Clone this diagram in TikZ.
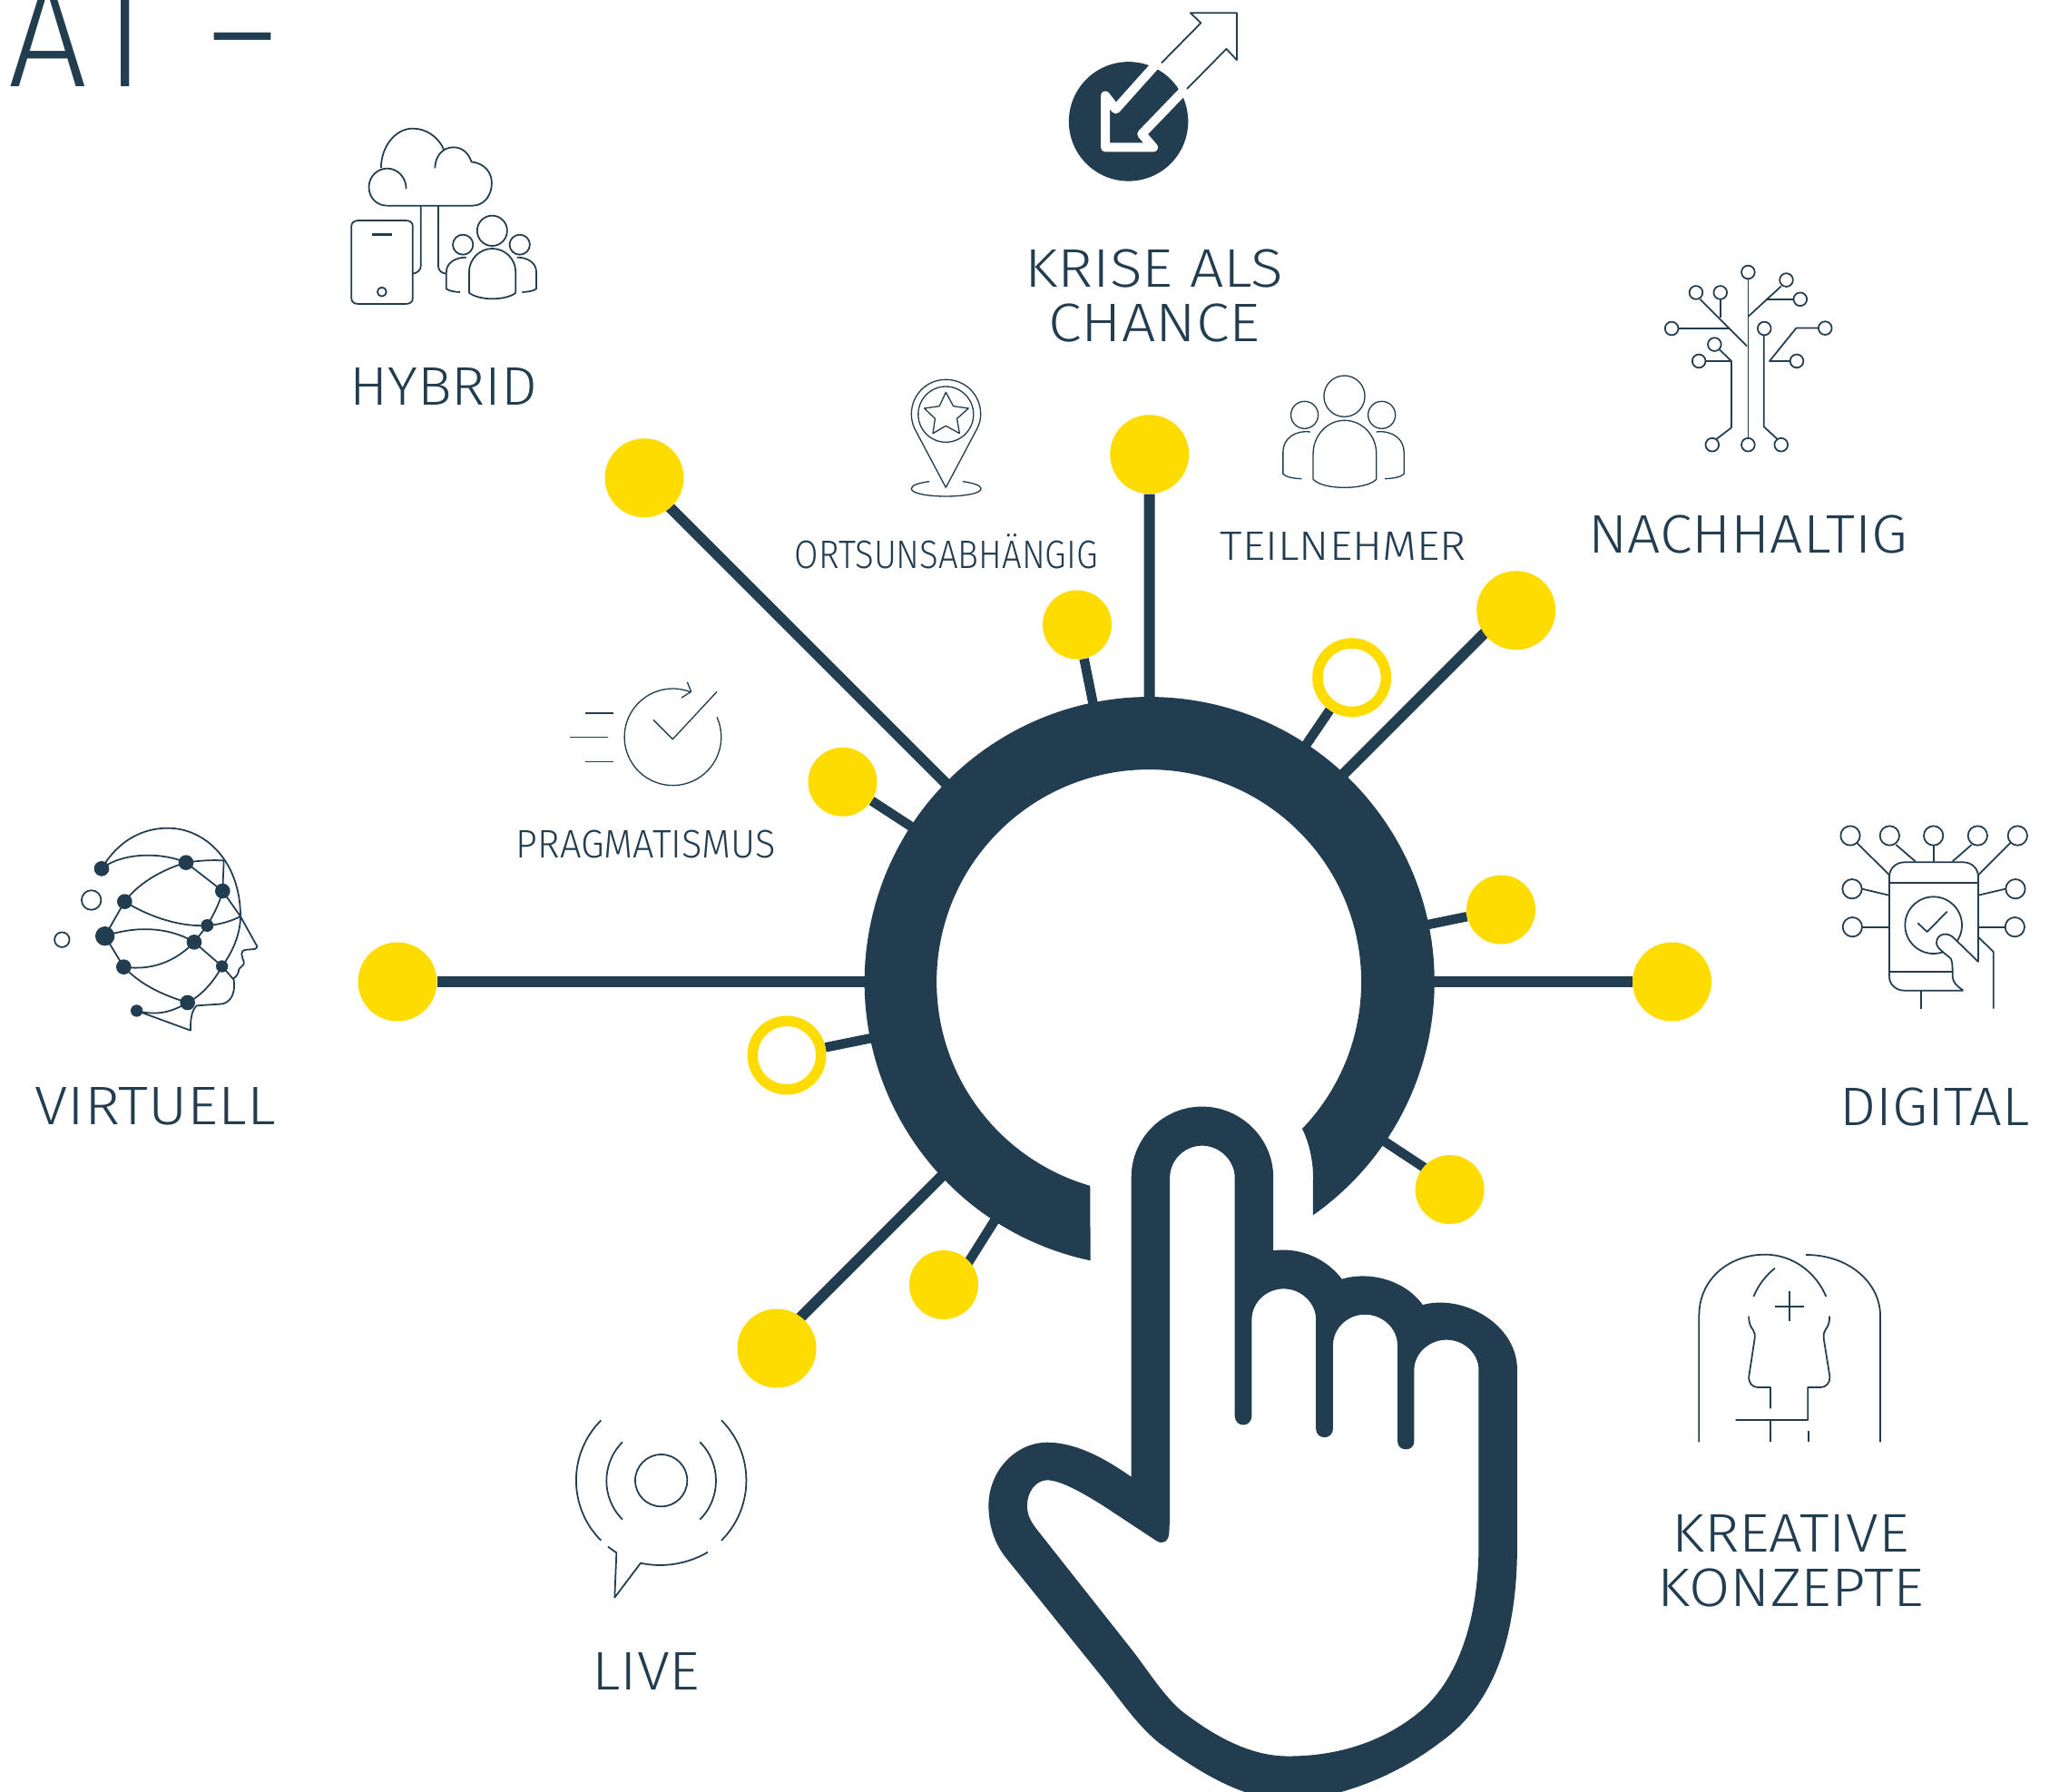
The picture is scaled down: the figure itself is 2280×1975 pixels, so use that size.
\documentclass[tikz,border=0pt]{standalone}
\usepackage{fontspec}
\usepackage{graphicx}
\setmainfont{Fira Sans}[UprightFont=* Light]
\usetikzlibrary{calc,backgrounds}
\definecolor{navy}{HTML}{223D50}
\definecolor{sun}{HTML}{FFDC00}
\newlength\pxunit
\setlength\pxunit{0.02cm}
\newcommand\capfit[3]{\resizebox{#1\pxunit}{#2\pxunit}{\fontsize{60}{60}\selectfont\raisebox{0pt}[\fontcharht\font`H][0pt]{#3}}}
\tikzset{
  lab/.style={anchor=south west,inner sep=0pt,text=navy},
  icon/.style={draw=navy,line width=1pt,line join=round},
  finicon/.style={draw=navy,line width=.75pt,line join=round},
  bigdot/.style={circle,fill=sun,inner sep=0pt,minimum size=1.74cm},
  smalldot/.style={circle,fill=sun,inner sep=0pt,minimum size=1.52cm},
  opendot/.style={circle,draw=sun,fill=white,line width=.23cm,inner sep=0pt,minimum size=1.51cm},
  bigline/.style={draw=navy,line width=.24cm},
  smallline/.style={draw=navy,line width=.21cm},
  hd/.style={circle,fill=navy,inner sep=0pt,minimum size=#1},
  tip/.style={circle,draw=navy,line width=1pt,inner sep=0pt,minimum size=#1},
}
\begin{document}
\begin{tikzpicture}[x=0.02cm,y=-0.02cm]
\useasboundingbox (0,0) rectangle (2280,1975);
\begin{pgfonlayer}{background}
\fill[white] (0,0) rectangle (2280,1975);
\end{pgfonlayer}
\coordinate (ctr) at (1266.6,1082);

% yellow dots
\node[bigdot] (b1) at (710,526.7) {};
\node[bigdot] (b2) at (1266.7,500.7) {};
\node[bigdot] (b3) at (1670.7,672.7) {};
\node[bigdot] (b4) at (438,1082) {};
\node[bigdot] (b5) at (1842.5,1082) {};
\node[bigdot] (b6) at (856,1486) {};
\node[smalldot] (s1) at (1187,688.5) {};
\node[smalldot] (s2) at (928.5,861.7) {};
\node[smalldot] (s3) at (1654,1002.5) {};
\node[smalldot] (s4) at (1597.6,1311) {};
\node[smalldot] (s5) at (1040,1416) {};
\node[opendot] (o1) at (1489.7,746.7) {};
\node[opendot] (o2) at (867,1163) {};
% connectors, under the dots and the ring
\begin{pgfonlayer}{background}
\foreach \n in {b2,b4,b5}{
  \coordinate (e\n) at ($(ctr)!6cm!(\n)$);
  \draw[bigline] (\n) -- (e\n);
}
\foreach \n in {s1,s2,s3,o2}{
  \coordinate (e\n) at ($(ctr)!6cm!(\n)$);
  \draw[smallline] (\n) -- (e\n);
}
\coordinate (eb1) at (1050,871);
\coordinate (eb3) at (1475,858.5);
\coordinate (eb6) at (1048,1286);
\coordinate (es4) at (1500,1241);
\coordinate (es5) at (1110,1323);
\coordinate (eo1) at (1429,836);
\draw[bigline] ($(b1)+(2,6.3)$) -- (eb1);
\draw[bigline] ($(b3)+(-10.7,.8)$) -- (eb3);
\draw[bigline] ($(b6)+(4,-12)$) -- (eb6);
\draw[smallline] ($(s4)+(-.6,-6)$) -- (es4);
\draw[smallline] ($(s5)+(10,2.5)$) -- (es5);
\draw[smallline] (o1) -- (eo1);
\end{pgfonlayer}
% ring
\fill[navy] (1201.7,1389.3) arc[start angle=101.95,end angle=415,radius=314] -- (1447,1297)
  .. controls (1447,1280) and (1443,1260) .. (1435,1244)
  arc[start angle=43.8,end angle=-253.9,radius=234] -- cycle;

% hand
\begin{scope}[shift={(1060,1180)},x={0.02cm/2.448},y={-0.02cm/1.972}]
\fill[navy,even odd rule]
 (457,232) .. controls (457,145) and (545,78) .. (648,78) .. controls (750,78) and (840,145) .. (840,232) -- (840,391)
 .. controls (915,383) and (985,410) .. (1025,453) .. controls (1100,435) and (1195,455) .. (1243,509)
 .. controls (1350,485) and (1498,550) .. (1498,650) -- (1498,1030)
 .. controls (1498,1240) and (1430,1380) .. (1290,1460) .. controls (1160,1540) and (1000,1585) .. (880,1585)
 .. controls (760,1585) and (640,1525) .. (530,1460) .. controls (470,1420) and (425,1365) .. (380,1320)
 -- (120,1060) .. controls (85,1025) and (72,985) .. (72,945) .. controls (72,870) and (145,808) .. (230,808)
 .. controls (310,808) and (390,845) .. (457,883) -- cycle
 (561,232) .. controls (561,195) and (600,163) .. (648,163) .. controls (695,163) and (736,195) .. (736,232) -- (736,750)
 .. controls (736,762) and (747,770) .. (759,770) .. controls (771,770) and (782,762) .. (782,750) -- (782,540)
 .. controls (782,505) and (820,474) .. (868,474) .. controls (915,474) and (955,505) .. (955,540) -- (955,778)
 .. controls (955,790) and (966,797) .. (978,797) .. controls (990,797) and (1001,790) .. (1001,778) -- (1001,597)
 .. controls (1001,560) and (1040,530) .. (1087,530) .. controls (1135,530) and (1175,560) .. (1175,597) -- (1175,805)
 .. controls (1175,817) and (1186,823) .. (1198,823) .. controls (1210,823) and (1220,817) .. (1220,805) -- (1220,650)
 .. controls (1220,615) and (1260,585) .. (1307,585) .. controls (1355,585) and (1394,615) .. (1394,650) -- (1394,1030)
 .. controls (1394,1190) and (1340,1320) .. (1240,1390) .. controls (1130,1465) and (1000,1490) .. (880,1490)
 .. controls (770,1490) and (670,1440) .. (590,1390) .. controls (540,1355) and (495,1295) .. (450,1250)
 -- (205,1000) .. controls (185,980) and (176,965) .. (176,945) .. controls (176,915) and (200,890) .. (230,890)
 .. controls (270,890) and (340,925) .. (380,945) -- (525,1022) .. controls (540,1030) and (557,1025) .. (559,1005) -- (561,970) -- cycle;
\end{scope}

% hybrid icon
\begin{scope}[shift={(0,0)},x={0.02cm/2.238},y={-0.02cm/3}]
\draw[icon] (955,680) -- (1165,680) .. controls (1195,680) and (1213,645) .. (1213,605) .. controls (1213,570) and (1195,540) .. (1163,535)
  .. controls (1155,505) and (1140,487) .. (1118,487) .. controls (1090,487) and (1073,520) .. (1073,556);
\draw[icon] (1095,495) .. controls (1080,450) and (1050,425) .. (1018,425) .. controls (975,425) and (940,485) .. (940,555);
\draw[icon] (1002,625) .. controls (1002,585) and (980,557) .. (955,557) .. controls (930,557) and (910,585) .. (910,618) .. controls (910,655) and (930,680) .. (955,680);
\draw[icon] (1038,680) -- (1038,880) .. controls (1038,892) and (1030,903) .. (1018,905);
\draw[icon] (1081,680) -- (1081,880) .. controls (1081,892) and (1088,903) .. (1100,905);
\draw[icon] (885,729) -- (1000,729) .. controls (1012,729) and (1018,737) .. (1018,747) -- (1018,987) .. controls (1018,998) and (1012,1005) .. (1000,1005)
  -- (885,1005) .. controls (873,1005) and (867,998) .. (867,987) -- (867,747) .. controls (867,737) and (873,729) .. (885,729) -- cycle;
\draw[navy,line width=2pt] (918,776) -- (966,776);
\draw[icon] (942,965) ellipse[x radius=11,y radius=15];
\draw[icon] (1214,763) ellipse[x radius=37,y radius=50];
\draw[icon] (1142,809) ellipse[x radius=25,y radius=33];
\draw[icon] (1282,809) ellipse[x radius=25,y radius=33];
\draw[icon] (1157,968) -- (1157,900) .. controls (1157,855) and (1185,822) .. (1214,822) .. controls (1245,822) and (1272,855) .. (1272,900) -- (1272,968) .. controls (1260,982) and (1235,988) .. (1214,988) .. controls (1195,988) and (1170,982) .. (1157,968);
\draw[icon] (1150,851) .. controls (1122,851) and (1101,870) .. (1101,900) -- (1101,955) .. controls (1108,962) and (1120,965) .. (1135,966);
\draw[icon] (1275,851) .. controls (1303,851) and (1323,870) .. (1323,900) -- (1323,955) .. controls (1316,962) and (1303,965) .. (1288,966);
\end{scope}

% krise icon and tree icon
\begin{scope}[shift={(1100,0)},x={0.02cm/1.567},y={-0.02cm/2.45}]
\fill[navy] (225,328) ellipse[x radius=103,y radius=161];
\draw[white,line width=.2cm,line join=round] (270,178) -- (203,295) -- (185,258) -- (185,398) -- (268,398) -- (248,362) -- (320,245);
\draw[icon] (282,170) -- (350,62) -- (332,35) -- (412,35) -- (412,162) -- (394,132) -- (326,240);
% tree
\foreach \n/\p in {t1/{1295,735},t2/{1361,756},t3/{1385,808},t4/{1205,790},t5/{1247,790},t6/{1163,887},t7/{1323,887},t8/{1428,886},t9/{1237,930},t10/{1210,975},t11/{1379,975},t12/{1233,1201},t13/{1295,1201},t14/{1352,1201}}{
  \draw[icon] (\p) ellipse[x radius=11.5,y radius=18];
}
\draw[icon] (1295,753) -- (1295,1183);
\draw[icon] (1295,855) -- (1352,773);
\draw[icon] (1325,808) -- (1373,808);
\draw[icon] (1293,935) -- (1212,808);
\draw[icon] (1247,808) -- (1247,858);
\draw[icon] (1175,887) -- (1262,887);
\draw[icon] (1322,905) -- (1322,1152) -- (1345,1185);
\draw[icon] (1245,943) -- (1266,975) -- (1266,1155) -- (1240,1186);
\draw[icon] (1221,975) -- (1266,975);
\draw[icon] (1417,886) -- (1378,886) -- (1332,975) -- (1368,975);
\end{scope}

% pin and teilnehmer
\begin{scope}[shift={(960,400)},x={0.02cm/2.527},y={-0.02cm/3}]
\draw[finicon] (208,412) -- (120,215) .. controls (115,200) and (112,185) .. (112,170) .. controls (112,105) and (155,55) .. (208,55) .. controls (262,55) and (305,105) .. (305,170) .. controls (305,185) and (302,200) .. (296,215) -- cycle;
\draw[finicon] (208,170) ellipse[x radius=77,y radius=92];
\draw[finicon] (208,97) -- (229,143) -- (271,150) -- (239,184) -- (246,233) -- (208,208) -- (172,233) -- (178,184) -- (148,150) -- (190,143) -- cycle;
\draw[finicon] (162,392) .. controls (130,397) and (112,405) .. (112,416) .. controls (112,432) and (160,441) .. (208,441) .. controls (256,441) and (306,432) .. (306,416) .. controls (306,405) and (285,397) .. (255,392);
\draw[finicon] (1318,110) ellipse[x radius=57,y radius=68];
\draw[finicon] (1207,172) ellipse[x radius=38,y radius=45];
\draw[finicon] (1422,172) ellipse[x radius=38,y radius=45];
\draw[finicon] (1231,385) -- (1231,300) .. controls (1231,240) and (1270,190) .. (1318,190) .. controls (1368,190) and (1407,240) .. (1407,300) -- (1407,385) .. controls (1390,405) and (1350,412) .. (1318,412) .. controls (1285,412) and (1248,405) .. (1231,385);
\draw[finicon] (1223,228) .. controls (1180,222) and (1147,250) .. (1147,295) -- (1147,367) .. controls (1155,377) and (1175,382) .. (1199,383);
\draw[finicon] (1407,228) .. controls (1450,222) and (1484,250) .. (1484,295) -- (1484,367) .. controls (1476,377) and (1455,382) .. (1431,383);
\end{scope}

% pragmatismus icon
\begin{scope}[shift={(600,720)},x={0.02cm/3},y={-0.02cm/3}]
\draw[finicon] (483,128) arc[start angle=-68.5,end angle=-384.3,radius=160];
\draw[finicon] (472,95) -- (485,127) -- (453,147);
\draw[finicon] (360,220) -- (424,284) -- (570,127);
\draw[finicon] (135,198) -- (227,198);
\draw[finicon] (85,278) -- (211,278);
\draw[finicon] (135,358) -- (227,358);
\end{scope}

% live icon
\begin{scope}[shift={(600,1540)},x={0.02cm/3},y={-0.02cm/3}]
\coordinate (lc) at (386,275);
\draw[icon] (lc) circle[radius=86];
\draw[icon] (258,148) arc[start angle=225,end angle=135,radius=181];
\draw[icon] (514,148) arc[start angle=-45,end angle=45,radius=181];
\draw[icon] (187,76) arc[start angle=225,end angle=135,radius=281];
\draw[icon] (585,76) arc[start angle=-45,end angle=45,radius=281];
\draw[icon] (210,494) -- (238,514) -- (232,662) -- (318,548) .. controls (395,565) and (475,550) .. (540,512);
\end{scope}

% virtuell icon
\begin{scope}[shift={(0,880)},x={0.02cm/3},y={-0.02cm/3}]
\node[hd=.333cm] (v1) at (336,232) {};
\node[hd=.333cm] (v2) at (615,212) {};
\node[hd=.333cm] (v3) at (736,306) {};
\node[hd=.333cm] (v4) at (412,341) {};
\node[hd=.28cm] (v5) at (685,420) {};
\node[hd=.333cm] (v6) at (642,475) {};
\node[hd=.427cm] (v7) at (347,455) {};
\node[hd=.333cm] (v8) at (409,557) {};
\node[hd=.267cm] (v9) at (734,555) {};
\node[hd=.333cm] (v10) at (620,675) {};
\node[hd=.267cm] (v11) at (452,702) {};
\node[tip=.43cm] (v12) at (302,336) {};
\node[tip=.33cm] (v13) at (205,467) {};
\coordinate (vb) at (795,390);
\coordinate (vt) at (740,205);
\draw[icon] (v1.center) .. controls (390,140) and (470,98) .. (555,98) .. controls (680,98) and (795,210) .. (vb);
\draw[icon] (vb) -- (845,480) .. controls (860,500) and (840,498) .. (815,500) .. controls (790,503) and (800,520) .. (806,540) .. controls (810,552) and (795,555) .. (790,565) .. controls (788,582) and (780,590) .. (772,595)
  .. controls (780,630) and (770,680) .. (725,680) -- (650,685) .. controls (630,705) and (630,740) .. (630,767) -- (v11.center);
\draw[icon] (vb) .. controls (795,440) and (775,500) .. (v9.center);
\draw[icon] (v9.center) -- (772,598);
\draw[icon] (v1.center) .. controls (400,180) and (530,175) .. (v2.center);
\draw[icon] (v2.center) .. controls (660,205) and (700,203) .. (vt) -- (v3.center);
\draw[icon] (v2.center) -- (v3.center);
\draw[icon] (v2.center) .. controls (520,240) and (450,290) .. (v4.center);
\draw[icon] (v4.center) .. controls (500,395) and (600,425) .. (v5.center);
\draw[icon] (v5.center) .. controls (720,418) and (760,408) .. (vb);
\draw[icon] (v3.center) -- (vb);
\draw[icon] (v3.center) .. controls (725,350) and (705,385) .. (v5.center);
\draw[icon] (v5.center) -- (v6.center);
\draw[icon] (v7.center) -- (v4.center);
\draw[icon] (v7.center) .. controls (450,420) and (560,425) .. (v6.center);
\draw[icon] (v7.center) -- (v8.center);
\draw[icon] (v8.center) .. controls (500,570) and (580,540) .. (v6.center);
\draw[icon] (v6.center) -- (v9.center);
\draw[icon] (v8.center) .. controls (470,620) and (540,650) .. (v10.center);
\draw[icon] (v10.center) .. controls (670,650) and (710,600) .. (v9.center);
\draw[icon] (v11.center) .. controls (520,720) and (570,705) .. (v10.center);
\end{scope}

% digital icon
\begin{scope}[shift={(1980,880)},x={0.02cm/3},y={-0.02cm/3}]
\draw[icon] (452,419) circle[radius=94];
\draw[icon] (400,412) -- (431,441) -- (497,374);
\foreach \p in {{177,123},{307,123},{452,123},{598,123},{730,123},{183,299},{723,299},{184,425},{721,425}}{
  \draw[icon] (\p) circle[radius=32];
}
\draw[icon] (197,145) -- (308,255);
\draw[icon] (328,153) -- (392,208);
\draw[icon] (452,155) -- (452,210);
\draw[icon] (578,153) -- (515,208);
\draw[icon] (708,145) -- (598,255);
\draw[icon] (216,299) -- (305,320);
\draw[icon] (690,299) -- (600,320);
\draw[icon] (216,425) -- (305,425);
\draw[icon] (690,425) -- (600,425);
\draw[icon] (306,590) -- (306,258) .. controls (306,232) and (328,211) .. (355,211) -- (552,211) .. controls (578,211) and (600,232) .. (600,258) -- (600,540);
\draw[icon] (306,590) .. controls (306,615) and (328,635) .. (355,635) -- (550,635);
\draw[icon] (306,280) -- (600,280);
\draw[icon] (306,573) -- (513,573);
\fill[white] (600,540) -- (520,462) .. controls (500,440) and (462,445) .. (462,478) .. controls (462,495) and (490,512) .. (510,530) .. controls (516,545) and (515,570) .. (515,590) .. controls (517,610) and (530,620) .. (550,635) -- (598,635) -- (598,540) -- cycle;
\draw[icon] (600,540) -- (520,462) .. controls (500,440) and (462,445) .. (462,478) .. controls (462,495) and (490,512) .. (510,530) .. controls (516,545) and (515,570) .. (515,590) .. controls (517,610) and (530,620) .. (550,635);
\draw[icon] (600,458) -- (650,507) -- (650,695);
\draw[icon] (410,635) -- (410,695);
\end{scope}

% kreative icon
\begin{scope}[shift={(1830,1360)},x={0.02cm/3},y={-0.02cm/3}]
\draw[icon] (127,688) -- (127,270) .. controls (127,150) and (225,68) .. (345,68) .. controls (440,68) and (515,130) .. (547,207);
\draw[icon] (480,69) .. controls (620,68) and (726,160) .. (726,270) -- (726,688);
\draw[icon] (307,207) .. controls (325,165) and (350,135) .. (378,113);
\draw[icon] (426,190) -- (426,288);
\draw[icon] (377,239) -- (475,239);
\draw[icon] (292,272) .. controls (290,295) and (300,310) .. (306,318) .. controls (312,326) and (312,335) .. (311,345) -- (292,470) .. controls (290,495) and (305,507) .. (322,507) -- (363,507) -- (363,577);
\draw[icon] (558,272) .. controls (560,295) and (550,310) .. (544,318) .. controls (538,326) and (538,335) .. (539,345) -- (559,470) .. controls (561,495) and (545,507) .. (528,507) -- (487,507) -- (487,615) -- (248,615);
\draw[icon] (364,615) -- (364,688);
\draw[icon] (488,652) -- (488,688);
\end{scope}

% labels
\node[lab] (tai) at (9,96) {\capfit{150}{112}{A\kern0.13em I}};
\node[lab] (tdash) at (230,92) {\capfit{74}{112}{–}};
\node[lab] (thyb) at (385,447) {\capfit{207}{41}{HYBRID}};
\node[lab] (tkr1) at (1129,317) {\capfit{285}{41}{KRISE ALS}};
\node[lab] (tkr2) at (1155,376.5) {\capfit{233}{41}{CHANCE}};
\node[lab] (tnach) at (1750,610) {\capfit{352}{41}{NACHHALTIG}};
\node[lab] (tteil) at (1344.5,618) {\capfit{271}{31}{TEILNEHMER}};
\node[lab] (tort) at (875.5,627) {\capfit{334}{30}{ORTSUNSABHÄNGIG}};
\node[lab] (tprag) at (568.5,946) {\capfit{285.5}{30}{PRAGMATISMUS}};
\node[lab] (tvirt) at (38,1240) {\capfit{265.5}{41}{VIRTUELL}};
\node[lab] (tdig) at (2027,1241) {\capfit{209}{41}{DIGITAL}};
\node[lab] (tkon1) at (1842,1710.5) {\capfit{261}{41}{KREATIVE}};
\node[lab] (tkon2) at (1826,1770.5) {\capfit{294}{41}{KONZEPTE}};
\node[lab] (tlive) at (652,1862.5) {\capfit{119}{41}{LIVE}};
\end{tikzpicture}
\end{document}
